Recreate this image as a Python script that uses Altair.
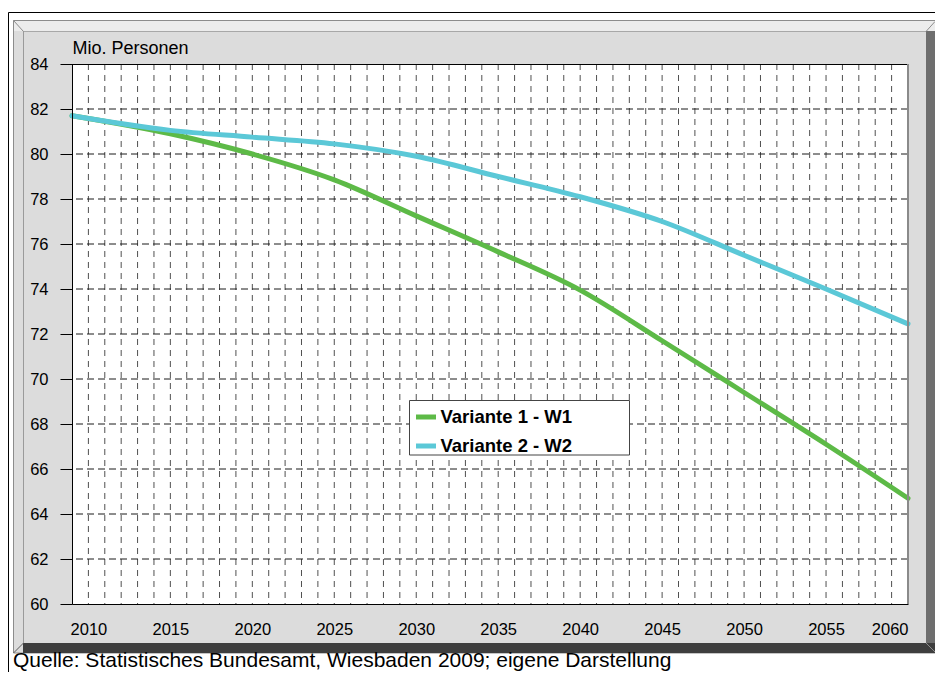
import altair as alt
import pandas as pd

# ---------------- data ----------------
years = [2009, 2015, 2020, 2025, 2030, 2035, 2040, 2045, 2050, 2055, 2060]
variante1_w1 = [81.7, 80.9, 80.0, 78.85, 77.25, 75.65, 73.95, 71.7, 69.4, 67.1, 64.7]
variante2_w2 = [81.7, 81.05, 80.75, 80.45, 79.9, 79.0, 78.1, 77.0, 75.5, 74.0, 72.45]
series_names = ["Variante 1 - W1", "Variante 2 - W2"]
series_colors = ["#5DBA47", "#5BC8D7"]
x_tick_labels = list(range(2010, 2061, 5))
y_ticks = list(range(60, 85, 2))
grid_years = list(range(2010, 2060))
grid_values = list(range(62, 83, 2))
y_title = "Mio. Personen"
source_note = "Quelle: Statistisches Bundesamt, Wiesbaden 2009; eigene Darstellung"

# ---------------- layout ----------------
W, H = 836, 540
TOTAL_W, TOTAL_H = 927, 664
PAD = {"left": 64, "top": 56}
PAD["right"] = TOTAL_W - W - PAD["left"]
PAD["bottom"] = TOTAL_H - H - PAD["top"]
OX, OY = 8 + PAD["left"], 8 + PAD["top"]   # page position of plot origin
RX = 8 + TOTAL_W                           # right edge of the drawing (page)


def P(x):
    return x - OX


def Q(y):
    return y - OY


one = alt.Data(values=[{}])


def rect(x, x2, y, y2, **mark):
    return alt.Chart(one).mark_rect(**mark).encode(
        x=alt.value(x), x2=alt.value(x2), y=alt.value(y), y2=alt.value(y2))


def seg(x, x2, y, y2, color, width=1):
    return alt.Chart(one).mark_rule(color=color, strokeWidth=width).encode(
        x=alt.value(x), x2=alt.value(x2), y=alt.value(y), y2=alt.value(y2))


df = pd.DataFrame({
    "year": years * 2,
    "value": variante1_w1 + variante2_w2,
    "series": [series_names[0]] * len(years) + [series_names[1]] * len(years),
})

xscale = alt.Scale(domain=[2009, 2060], nice=False, zero=False)
yscale = alt.Scale(domain=[60, 84], nice=False, zero=False)

xaxis = alt.Axis(values=x_tick_labels, format="d", ticks=False, tickSize=0,
                 domainColor="black", domainWidth=1, labelFontSize=16.5,
                 labelColor="black", labelPadding=17, grid=False, title=None,
                 zindex=1, labelOverlap=False)
yaxis = alt.Axis(values=y_ticks, tickSize=12, tickColor="black", tickWidth=1,
                 domainColor="black", domainWidth=1, labelFontSize=16.5,
                 labelColor="black", labelPadding=12, grid=False,
                 title=y_title, titleAngle=0, titleX=0, titleY=-11,
                 titleAlign="left", titleBaseline="alphabetic",
                 titleFontSize=18, titleFontWeight="normal",
                 titleColor="black", zindex=1)

layers = []
# outer black frame
layers.append(rect(P(8.5), P(990), Q(12.5), Q(760), fill="white",
                   stroke="black", strokeWidth=1))
# grey 3D panel
layers.append(rect(P(13.5), P(RX + 5), Q(20.5), Q(653), fill="#DCDCDC",
                   stroke="#8C8C8C", strokeWidth=1))
layers.append(rect(P(14), P(RX), Q(21), Q(31), fill="#ECECEC"))
layers.append(rect(P(RX - 9), P(RX), Q(31), Q(653), fill="#6E6E6E"))
layers.append(rect(P(23), P(RX), Q(643), Q(653), fill="#3E3E3E"))
layers.append(seg(P(23.5), P(23.5), Q(31), Q(643), "#9A9A9A"))
layers.append(seg(P(23.5), P(RX - 9), Q(31.5), Q(31.5), "#A8A8A8"))
layers.append(seg(P(13.5), P(23.5), Q(20.5), Q(31.5), "#8C8C8C"))
layers.append(seg(P(13.5), P(23.5), Q(653), Q(643), "#5A5A5A"))
layers.append(seg(P(RX), P(RX - 9), Q(21.5), Q(31.5), "#8C8C8C"))
layers.append(seg(P(RX - 9), P(RX), Q(643), Q(652), "#8C8C8C"))
# plot area
layers.append(rect(0, W, 0, H, fill="white"))

# grid lines
layers.append(
    alt.Chart(pd.DataFrame({"year": grid_years}))
    .mark_rule(color="#505050", strokeWidth=1, strokeDash=[6, 5])
    .encode(x=alt.X("year:Q", scale=xscale, axis=xaxis))
)
layers.append(
    alt.Chart(pd.DataFrame({"value": grid_values}))
    .mark_rule(color="#1A1A1A", strokeWidth=1, strokeDash=[7, 4])
    .encode(y=alt.Y("value:Q", scale=yscale, axis=yaxis))
)

# legend box (the legend itself draws symbols and labels on top)
layers.append(rect(P(409.5), P(629.5), Q(400.5), Q(455), fill="white",
                   stroke="#444444", strokeWidth=1))

legend = alt.Legend(
    orient="none", legendX=P(409.5), legendY=Q(400.5), title=None,
    symbolType="stroke", symbolSize=400, symbolStrokeWidth=5,
    labelFontSize=18.5, labelFontWeight="bold", labelColor="black",
    labelOffset=2, labelLimit=400, padding=4, rowPadding=6,
)

layers.append(
    alt.Chart(df)
    .mark_line(strokeWidth=5, interpolate="monotone", strokeCap="round")
    .encode(
        x=alt.X("year:Q", scale=xscale, axis=xaxis),
        y=alt.Y("value:Q", scale=yscale, axis=yaxis),
        color=alt.Color("series:N",
                        scale=alt.Scale(domain=series_names, range=series_colors),
                        legend=legend),
    )
)

# plot border (top black, right grey)
layers.append(seg(0, W, 0.5, 0.5, "black", 1))
layers.append(seg(W, W, 0, H, "#8A8A8A", 2))

# source note
layers.append(
    alt.Chart(one).mark_text(text=source_note, align="left",
                             baseline="alphabetic", fontSize=21,
                             color="black")
    .encode(x=alt.value(P(13)), y=alt.value(Q(667)))
)

chart = (
    alt.layer(*layers)
    .properties(width=W, height=H, autosize=alt.AutoSizeParams(type="none"),
                padding=PAD, background="white")
    .configure(font="Liberation Sans")
    .configure_view(stroke="transparent")
)

chart.save("out.html", embed_options={"renderer": "svg", "actions": False})
